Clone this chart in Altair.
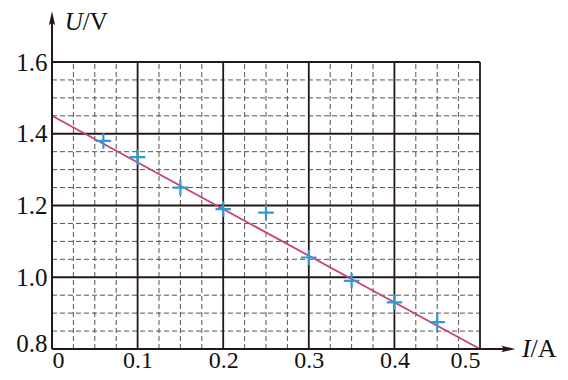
import altair as alt
import pandas as pd

# measured data points (I in A, U in V)
I_vals = [0.06, 0.10, 0.15, 0.20, 0.25, 0.30, 0.35, 0.40, 0.45]
U_vals = [1.38, 1.335, 1.25, 1.19, 1.18, 1.055, 0.99, 0.93, 0.875]

# fitted line end points
fit_I = [0.0, 0.5]
fit_U = [1.45, 0.8]

x_major = [0.1, 0.2, 0.3, 0.4, 0.5]
y_major = [1.0, 1.2, 1.4, 1.6]
x_minor = [0.025, 0.05, 0.075, 0.125, 0.15, 0.175, 0.225, 0.25, 0.275,
           0.325, 0.35, 0.375, 0.425, 0.45, 0.475]
y_minor = [0.85, 0.9, 0.95, 1.05, 1.1, 1.15, 1.25, 1.3, 1.35, 1.45, 1.5, 1.55]
x_ticks = [0, 0.1, 0.2, 0.3, 0.4, 0.5]
y_ticks = [0.8, 1.0, 1.2, 1.4, 1.6]

XMIN, XMAX, YMIN, YMAX = 0.0, 0.5, 0.8, 1.6
FONT = "Liberation Serif"
DARK = "#231815"

xs = alt.Scale(domain=[XMIN, XMAX], nice=False, zero=False)
ys = alt.Scale(domain=[YMIN, YMAX], nice=False, zero=False)

xax = alt.Axis(values=x_ticks, labelExpr="datum.value == 0 ? '0' : format(datum.value, '.1f')",
               labelPadding=-1, labelFontSize=24, grid=False, ticks=False, domain=False,
               title=None)
yax = alt.Axis(values=y_ticks, format=".1f", labelPadding=5, grid=False, ticks=False,
               domain=False, title=None,
               labelOffset=alt.ExprRef("datum.value == 0.8 ? -6 : 0"))

minx = alt.Chart(pd.DataFrame({"x": x_minor})).mark_rule(
    color="#555", strokeWidth=1, strokeDash=[5, 3]).encode(
    x=alt.X("x:Q", scale=xs, axis=xax), y=alt.datum(YMIN), y2=alt.datum(YMAX))
miny = alt.Chart(pd.DataFrame({"y": y_minor})).mark_rule(
    color="#555", strokeWidth=1, strokeDash=[5, 3]).encode(
    y=alt.Y("y:Q", scale=ys, axis=yax), x=alt.datum(XMIN), x2=alt.datum(XMAX))
majx = alt.Chart(pd.DataFrame({"x": x_major})).mark_rule(
    color=DARK, strokeWidth=1.8).encode(
    x=alt.X("x:Q", scale=xs, axis=xax), y=alt.datum(YMIN), y2=alt.datum(YMAX))
majy = alt.Chart(pd.DataFrame({"y": y_major})).mark_rule(
    color=DARK, strokeWidth=1.8).encode(
    y=alt.Y("y:Q", scale=ys, axis=yax), x=alt.datum(XMIN), x2=alt.datum(XMAX))

fit = alt.Chart(pd.DataFrame({"I": fit_I, "U": fit_U})).mark_line(
    color="#c8417e", strokeWidth=1.8).encode(
    x=alt.X("I:Q", scale=xs, axis=xax), y=alt.Y("U:Q", scale=ys, axis=yax))

pts = alt.Chart(pd.DataFrame({"I": I_vals, "U": U_vals})).mark_point(
    shape="M-1,0L1,0M0,-1L0,1", size=240, filled=False, color="#2e9bd6",
    strokeWidth=2.2, opacity=1).encode(
    x=alt.X("I:Q", scale=xs, axis=xax), y=alt.Y("U:Q", scale=ys, axis=yax))

# axes with arrows
yaxis_line = alt.Chart(pd.DataFrame({"a": [0]})).mark_rule(
    color=DARK, strokeWidth=2, clip=False).encode(
    x=alt.datum(XMIN), y=alt.datum(YMIN), y2=alt.datum(1.725))
xaxis_line = alt.Chart(pd.DataFrame({"a": [0]})).mark_rule(
    color=DARK, strokeWidth=2, clip=False).encode(
    y=alt.datum(YMIN), x=alt.datum(XMIN), x2=alt.datum(0.535))
yarrow = alt.Chart(pd.DataFrame({"a": [0]})).mark_point(
    shape="M0,-1L0.45,1L0,0.6L-0.45,1Z", size=200, filled=True, color=DARK,
    opacity=1, clip=False).encode(x=alt.datum(XMIN), y=alt.datum(1.722))
xarrow = alt.Chart(pd.DataFrame({"a": [0]})).mark_point(
    shape="M1,0L-1,0.45L-0.6,0L-1,-0.45Z", size=200, filled=True, color=DARK,
    opacity=1, clip=False).encode(x=alt.datum(0.533), y=alt.datum(YMIN))

def txt(t, x, y, italic, size):
    return alt.Chart(pd.DataFrame({"t": [t]})).mark_text(
        font=FONT, fontSize=size, fontStyle="italic" if italic else "normal",
        align="left", baseline="alphabetic", color="#111").encode(
        x=alt.datum(x), y=alt.datum(y), text="t:N")

labels = (txt("U", 0.015, 1.689, True, 25) + txt("/V", 0.036, 1.689, False, 25) +
          txt("I", 0.549, 0.777, True, 26) + txt("/A", 0.559, 0.777, False, 26))

chart = alt.layer(minx, miny, majx, majy, fit, pts, yaxis_line, xaxis_line,
                  yarrow, xarrow, labels).properties(
    width=428, height=287,
    autosize=alt.AutoSizeParams(type="none"),
    padding={"left": 44, "top": 54, "right": 80, "bottom": 23},
    background="white",
).configure_view(stroke=None).configure_axis(
    labelFont=FONT, labelFontSize=25, labelColor="#111")

chart.save("out.html", embed_options={"renderer": "svg", "actions": False})
